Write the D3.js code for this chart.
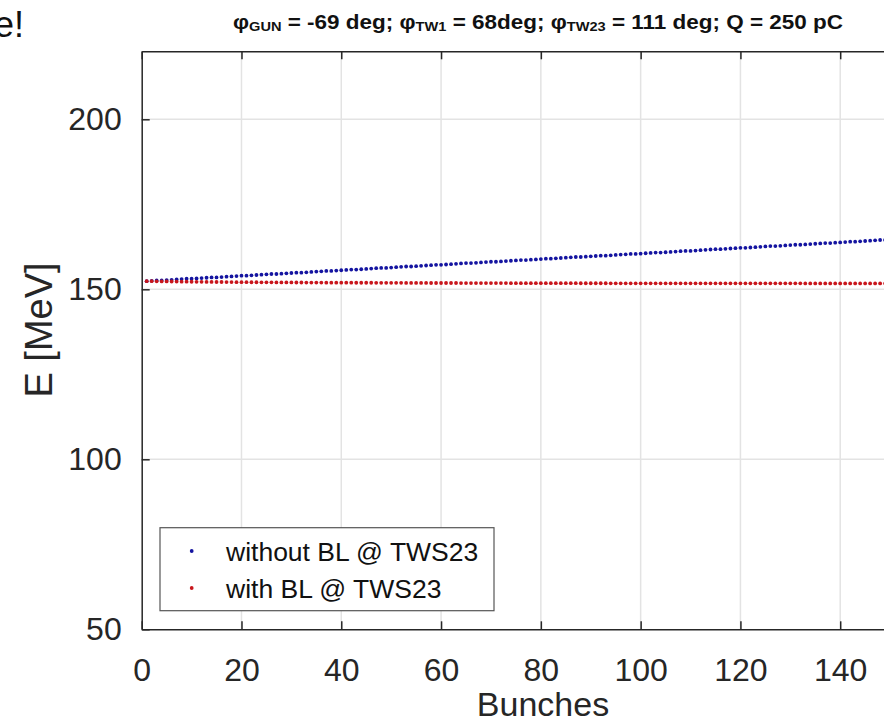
<!DOCTYPE html>
<html>
<head>
<meta charset="utf-8">
<script src="https://cdn.jsdelivr.net/npm/d3@7"></script>
<style>
  body { margin: 0; background: #fff; }
  svg { display: block; font-family: "Liberation Sans", Arial, Helvetica, sans-serif; }
</style>
</head>
<body>
<svg id="chart" width="884" height="724"></svg>
<script>
// energy per bunch (MeV)
const withoutBL = [
  152.4, 152.5, 152.6, 152.6, 152.7, 152.8, 152.9, 153.0, 153.1, 153.1,
  153.2, 153.3, 153.4, 153.5, 153.5, 153.6, 153.7, 153.8, 153.9, 154.0,
  154.0, 154.1, 154.2, 154.3, 154.4, 154.5, 154.5, 154.6, 154.7, 154.8,
  154.9, 154.9, 155.0, 155.1, 155.2, 155.3, 155.4, 155.4, 155.5, 155.6,
  155.7, 155.8, 155.8, 155.9, 156.0, 156.1, 156.2, 156.3, 156.3, 156.4,
  156.5, 156.6, 156.7, 156.7, 156.8, 156.9, 157.0, 157.1, 157.2, 157.2,
  157.3, 157.4, 157.5, 157.6, 157.7, 157.7, 157.8, 157.9, 158.0, 158.1,
  158.1, 158.2, 158.3, 158.4, 158.5, 158.6, 158.6, 158.7, 158.8, 158.9,
  159.0, 159.0, 159.1, 159.2, 159.3, 159.4, 159.5, 159.5, 159.6, 159.7,
  159.8, 159.9, 159.9, 160.0, 160.1, 160.2, 160.3, 160.4, 160.4, 160.5,
  160.6, 160.7, 160.8, 160.8, 160.9, 161.0, 161.1, 161.2, 161.3, 161.3,
  161.4, 161.5, 161.6, 161.7, 161.8, 161.8, 161.9, 162.0, 162.1, 162.2,
  162.2, 162.3, 162.4, 162.5, 162.6, 162.7, 162.7, 162.8, 162.9, 163.0,
  163.1, 163.1, 163.2, 163.3, 163.4, 163.5, 163.6, 163.6, 163.7, 163.8,
  163.9, 164.0, 164.0, 164.1, 164.2, 164.3, 164.4, 164.5, 164.5, 164.6
];
const withBL = [
  152.40, 152.38, 152.35, 152.33, 152.31, 152.29, 152.27, 152.25, 152.24, 152.22,
  152.21, 152.19, 152.18, 152.17, 152.15, 152.14, 152.13, 152.12, 152.11, 152.10,
  152.09, 152.08, 152.07, 152.06, 152.05, 152.04, 152.03, 152.03, 152.02, 152.01,
  152.00, 152.00, 151.99, 151.98, 151.98, 151.97, 151.96, 151.96, 151.95, 151.95,
  151.94, 151.94, 151.93, 151.93, 151.92, 151.92, 151.91, 151.91, 151.90, 151.90,
  151.89, 151.89, 151.88, 151.88, 151.88, 151.87, 151.87, 151.86, 151.86, 151.86,
  151.85, 151.85, 151.85, 151.84, 151.84, 151.84, 151.83, 151.83, 151.83, 151.82,
  151.82, 151.82, 151.82, 151.81, 151.81, 151.81, 151.81, 151.80, 151.80, 151.80,
  151.80, 151.80, 151.79, 151.79, 151.79, 151.79, 151.79, 151.78, 151.78, 151.78,
  151.78, 151.78, 151.78, 151.77, 151.77, 151.77, 151.77, 151.77, 151.77, 151.77,
  151.76, 151.76, 151.76, 151.76, 151.76, 151.76, 151.76, 151.76, 151.76, 151.76,
  151.76, 151.76, 151.75, 151.75, 151.75, 151.75, 151.75, 151.75, 151.75, 151.75,
  151.75, 151.75, 151.75, 151.75, 151.75, 151.75, 151.75, 151.75, 151.75, 151.75,
  151.75, 151.75, 151.74, 151.74, 151.74, 151.74, 151.74, 151.74, 151.74, 151.74,
  151.74, 151.74, 151.74, 151.74, 151.74, 151.74, 151.74, 151.74, 151.74, 151.74
];
const xTicks = [0, 20, 40, 60, 80, 100, 120, 140];
const yTicks = [50, 100, 150, 200];
const seriesNames = ["without BL @ TWS23", "with BL @ TWS23"];
const seriesColors = ["#1414a0", "#c8161c"];

const svg = d3.select("#chart");

const x = d3.scaleLinear().domain([0, 160]).range([141.7, 940]);
const y = d3.scaleLinear().domain([50, 220]).range([629.3, 51.3]);

const axisColor = "#262626";

// grid
svg.append("g")
    .selectAll("line")
    .data(xTicks.filter(d => d > 0))
    .enter().append("line")
    .attr("x1", d => x(d)).attr("x2", d => x(d))
    .attr("y1", y(220)).attr("y2", y(50))
    .attr("stroke", "#e3e3e3").attr("stroke-width", 1.5);

svg.append("g")
    .selectAll("line")
    .data(yTicks.filter(d => d > 50))
    .enter().append("line")
    .attr("x1", x(0)).attr("x2", x(160))
    .attr("y1", d => y(d)).attr("y2", d => y(d))
    .attr("stroke", "#e3e3e3").attr("stroke-width", 1.5);

// data points
const series = [withoutBL, withBL];
series.forEach(function (vals, si) {
    svg.append("g")
        .selectAll("circle")
        .data(vals)
        .enter().append("circle")
        .attr("cx", (d, i) => x(i + 1))
        .attr("cy", d => y(d))
        .attr("r", 1.9)
        .attr("fill", seriesColors[si]);
});

// axes
const xAxisG = svg.append("g")
    .attr("transform", "translate(0," + y(50) + ")")
    .call(d3.axisBottom(x).tickValues(xTicks).tickSizeInner(-8).tickSizeOuter(0));
const yAxisG = svg.append("g")
    .attr("transform", "translate(" + x(0) + ",0)")
    .call(d3.axisLeft(y).tickValues(yTicks).tickSizeInner(-8).tickSizeOuter(0));
const topAxisG = svg.append("g")
    .attr("transform", "translate(0," + y(220) + ")")
    .call(d3.axisTop(x).tickValues(xTicks).tickSizeInner(-8).tickSizeOuter(0).tickFormat(""));

[xAxisG, yAxisG, topAxisG].forEach(function (g) {
    g.select(".domain").attr("stroke", axisColor).attr("stroke-width", 1.5);
    g.selectAll(".tick line").attr("stroke", axisColor).attr("stroke-width", 1.5);
    g.selectAll(".tick text")
        .attr("fill", "#262626")
        .style("font-size", "32px")
        .style("font-family", "\"Liberation Sans\", Arial, sans-serif");
});
xAxisG.selectAll(".tick text").attr("dy", null).attr("y", 52);
yAxisG.selectAll(".tick text").attr("x", -20);

// legend
const legend = svg.append("g");
legend.append("rect")
    .attr("x", 160).attr("y", 527.7)
    .attr("width", 334).attr("height", 83)
    .attr("fill", "#fff")
    .attr("stroke", "#555").attr("stroke-width", 1.2);
seriesNames.forEach(function (name, i) {
    const cy = 551 + i * 37;
    legend.append("circle")
        .attr("cx", 191.7).attr("cy", cy).attr("r", 1.9)
        .attr("fill", seriesColors[i]);
    legend.append("text")
        .attr("x", 226).attr("y", cy + 9.5)
        .style("font-size", "26.5px")
        .attr("fill", "#111")
        .text(name);
});

// axis labels
svg.append("text")
    .attr("x", 543).attr("y", 716)
    .attr("text-anchor", "middle")
    .style("font-size", "34px")
    .attr("fill", "#262626")
    .text("Bunches");

svg.append("text")
    .attr("transform", "translate(52,330) rotate(-90)")
    .attr("text-anchor", "middle")
    .style("font-size", "38px")
    .attr("fill", "#262626")
    .text("E [MeV]");

// title
const title = svg.append("text")
    .attr("x", 233).attr("y", 29)
    .attr("textLength", 610)
    .attr("lengthAdjust", "spacingAndGlyphs")
    .style("font-size", "20px")
    .style("font-weight", "bold")
    .attr("fill", "#111");
const parts = [
    ["φ", false], ["GUN", true], [" = -69 deg; φ", false], ["TW1", true],
    [" = 68deg; φ", false], ["TW23", true], [" = 111 deg; Q = 250 pC", false]
];
parts.forEach(function (p) {
    title.append("tspan")
        .attr("baseline-shift", p[1] ? "-2" : null)
        .style("font-size", p[1] ? "13px" : "20px")
        .text(p[0]);
});

// slide fragment at top left
svg.append("text")
    .attr("x", 24).attr("y", 37)
    .attr("text-anchor", "end")
    .style("font-size", "36px")
    .attr("fill", "#111")
    .text("e!");
</script>
</body>
</html>
